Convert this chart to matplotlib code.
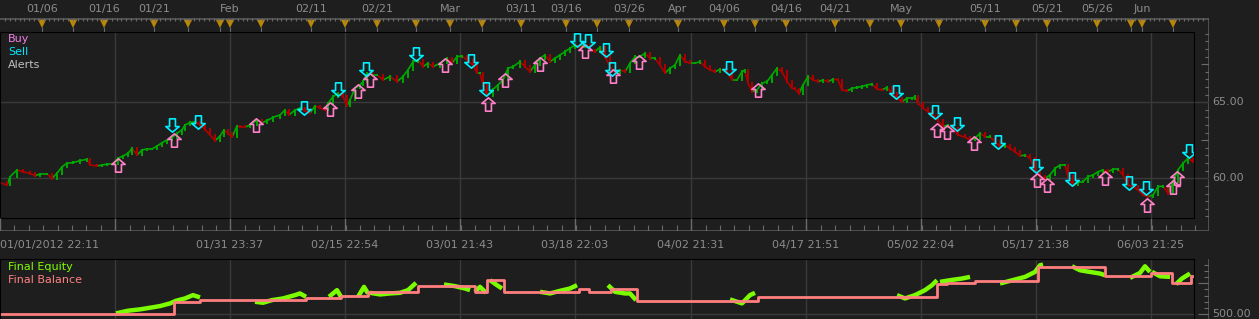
import numpy as np
import matplotlib.pyplot as plt
from matplotlib.collections import LineCollection
from matplotlib.path import Path

W, H = 1259, 319
BG = '#1e1e1e'
GRID = '#3a3a3a'
TXT = '#8c8c8c'
FRAME = '#5a5a5a'
TICK = '#6a6a6a'

# --- price bars (bar position, close) ---
price_x = [0, 7, 10, 17, 23, 30, 35, 40, 47, 52, 57, 62, 67, 73, 80, 87, 90, 97, 102, 107,
           113, 118, 123, 128, 132, 137, 142, 147, 152, 157, 162, 167, 172, 177, 182, 185, 190,
           195, 200, 205, 210, 215, 220, 224, 228, 232, 237,
           240, 245, 250, 257, 262, 267, 273, 280, 285, 289, 295, 300, 305, 310, 315, 320, 325,
           328, 333, 338, 343, 347, 350, 355, 360, 363, 367, 372, 377, 383, 390, 397, 403, 408,
           413, 418, 423, 428, 433, 440, 447, 452, 457, 462, 467, 473, 477,
           480, 483, 487, 493, 498, 503, 508, 513, 520, 525, 530, 535, 540, 545, 550, 555, 560,
           565, 570, 575, 580, 585, 590, 595, 600, 605, 610, 615, 620, 625, 630, 635, 640, 645,
           650, 655, 660, 665, 670, 675, 680, 685, 690, 695, 700, 705, 710, 715,
           720, 727, 732, 737, 742, 745, 748, 752, 757, 762, 767, 772, 777, 782, 787, 792, 795,
           799, 803, 808, 813, 818, 823, 828, 833, 838, 842, 847, 852, 857, 862, 867, 872, 877,
           882, 887, 892, 897, 902, 907, 912, 915, 918, 923, 928, 933, 938, 943, 948, 953, 958,
           965, 970, 975, 980, 985, 990, 995, 1000, 1005, 1010, 1015, 1020, 1025, 1030, 1035,
           1040, 1045, 1050, 1055, 1060, 1065, 1068, 1073, 1078, 1083, 1088, 1093, 1098, 1103,
           1108, 1113, 1118, 1123, 1128, 1133, 1138, 1143, 1148, 1153, 1158, 1163, 1168, 1173,
           1178, 1183, 1188, 1193]
price_close = [59.71, 59.56, 60.10, 60.55, 60.43, 60.33, 60.17, 60.28, 60.28, 60.00, 60.33, 60.76,
               60.99, 61.03, 61.16, 61.25, 60.87, 60.81, 60.87, 60.94, 60.94, 61.32, 61.47, 61.64,
               61.97, 61.53, 61.86, 61.93, 61.93, 62.12, 62.34, 62.52, 62.67, 62.96, 63.18, 63.51,
               63.66, 63.72, 63.51, 63.22, 62.85, 62.47, 62.78, 63.18, 62.96, 62.70, 63.44,
               63.40, 63.36, 63.51, 63.84, 63.66, 63.79, 64.01, 64.16, 64.49, 64.16, 64.49, 64.61,
               64.45, 64.28, 64.76, 64.61, 64.49, 64.93, 65.37, 65.59, 65.37, 64.76, 65.15, 65.92,
               66.14, 66.36, 66.91, 66.80, 66.80, 66.47, 66.69, 66.36, 66.69, 67.13, 67.67, 67.78,
               67.34, 67.57, 67.34, 67.57, 67.89, 67.57, 68.00, 68.05, 67.78, 67.45, 66.91,
               66.91, 66.10, 65.45, 65.85, 66.14, 66.47, 67.24, 67.34, 67.67, 67.34, 67.01, 67.45,
               67.89, 68.11, 67.67, 67.89, 68.11, 68.33, 68.55, 68.77, 68.66, 68.77, 68.44, 68.33,
               68.62, 68.00, 67.34, 66.95, 67.13, 67.01, 67.57, 68.00, 68.00, 68.22, 67.89, 67.89,
               67.45, 66.91, 67.24, 67.45, 68.11, 67.67, 67.57, 67.57, 67.67, 67.34, 67.13, 67.01,
               67.17, 67.01, 66.47, 66.47, 67.01, 67.13, 66.25, 65.70, 65.81, 66.25, 66.36, 66.80,
               67.24, 67.01, 66.36, 65.92, 65.86, 65.59, 66.14, 66.69, 66.47, 66.36, 66.47, 66.36,
               66.51, 66.47, 65.81, 65.74, 65.92, 65.98, 66.03, 66.14, 66.20, 65.86, 65.81, 65.98,
               65.59, 65.26, 65.04, 65.26, 65.26, 65.37, 64.93, 64.61, 64.38, 64.16, 63.79, 63.40,
               63.51, 63.29, 62.85,
               62.70, 62.52, 62.63, 62.96, 62.74, 62.74, 62.41, 62.08, 62.19, 61.97, 61.75, 61.47,
               61.53, 61.32, 60.55, 60.11, 60.00, 60.22, 60.66, 60.87, 60.87, 60.11, 59.56, 59.78,
               59.78, 60.11, 60.22, 60.43, 60.55, 60.43, 60.59, 60.59, 60.22, 59.56, 59.45, 59.23,
               58.90, 58.79, 58.90, 59.45, 59.49, 59.01, 59.78, 60.55, 60.99, 61.32, 61.09]

# --- trade signals ---
buy_x = [118, 174, 256, 330, 358, 370, 445, 488, 505, 540, 585, 613, 639, 758, 937, 947, 974,
         1037, 1047, 1105, 1147, 1173, 1177]
buy_price = [60.87, 62.52, 63.51, 64.56, 65.74, 66.47, 67.45, 64.89, 66.47, 67.52, 68.38, 66.73,
             67.65, 65.81, 63.18, 63.05, 62.32, 59.89, 59.56, 60.02, 58.24, 59.43, 60.02]
sell_x = [172, 198, 304, 338, 366, 416, 471, 486, 577, 588, 606, 612, 729, 896, 935, 957, 998,
          1036, 1072, 1129, 1146, 1189]
sell_price = [63.51, 63.70, 64.64, 65.88, 67.19, 68.18, 67.72, 65.88, 69.10, 69.03, 68.44, 67.19,
              67.26, 65.68, 64.36, 63.57, 62.39, 60.81, 59.95, 59.69, 59.36, 61.80]

# --- equity (only while a position is open) and balance ---
nan = np.nan
equity_x = [116, 128, 140, 150, 160, 170, 176, 185, 193, 200, nan,
            255, 263, 272, 283, 295, 300, 306, nan,
            329, 337, 341, nan, 358, 364, 368, nan,
            370, 380, 390, 400, 408, 416, nan,
            444, 455, 465, 470, nan, 475, 480, 486, nan, 490, 497, 502, nan,
            540, 550, 560, 570, 577, nan,
            608, 615, 625, 630, 636, nan,
            730, 742, 750, 755, nan,
            897, 905, 915, 925, 932, 937, nan, 940, 950, 962, 970, nan,
            1000, 1015, 1025, 1035, 1040, 1043, nan,
            1072, 1080, 1090, 1100, 1105, nan,
            1130, 1140, 1145, 1150, nan, 1152, 1160, 1170, nan, 1176, 1182, 1190]
equity_val = [516, 558, 580, 606, 633, 676, 718, 756, 809, 772, nan,
              702, 686, 729, 756, 809, 836, 782, nan,
              782, 889, 782, nan, 782, 942, 836, nan,
              846, 820, 836, 846, 889, 1006, nan,
              980, 953, 916, 889, nan, 862, 942, 846, nan, 1049, 969, 916, nan,
              862, 836, 878, 916, 969, nan,
              969, 862, 836, 836, 729, nan,
              740, 676, 809, 846, nan,
              809, 756, 809, 889, 969, 1049, nan, 1022, 1049, 1076, 1102, nan,
              996, 1060, 1102, 1182, 1289, 1300, nan,
              1273, 1209, 1182, 1156, 1129, nan,
              1086, 1166, 1273, 1182, nan, 1182, 1113, 1102, nan, 985, 1076, 1156]
balance_x = [0, 174, 200, 306, 341, 368, 418, 475, 487, 504, 579, 589, 611, 637, 758, 937, 947,
             975, 1038, 1105, 1151, 1172, 1191, 1194]
balance_val = [510, 697, 734, 766, 793, 857, 958, 852, 1049, 852, 905, 852, 905, 718, 782, 990,
               1012, 1038, 1262, 1118, 1166, 1012, 1124, 1124]

# --- time axes ---
top_marks = [42, 73, 104, 154, 188, 220, 230, 261, 311, 345, 377, 416, 450, 482, 521, 566, 597,
             629, 678, 724, 755, 786, 835, 870, 901, 939, 985, 1016, 1047, 1097, 1131, 1142, 1173]
top_label_x = [42, 104, 154, 230, 311, 377, 450, 521, 566, 629, 678, 724, 786, 835, 901, 985,
               1047, 1097, 1142]
top_labels = ['01/06', '01/16', '01/21', 'Feb', '02/11', '02/21', 'Mar', '03/11', '03/16',
              '03/26', 'Apr', '04/06', '04/16', '04/21', 'May', '05/11', '05/21', '05/26', 'Jun']
bottom_label_x = [0, 115, 230, 345, 460, 575, 691, 806, 921, 1036, 1151]
bottom_labels = ['01/01/2012 22:11', '', '01/31 23:37', '02/15 22:54', '03/01 21:43',
                 '03/18 22:03', '04/02 21:31', '04/17 21:51', '05/02 22:04', '05/17 21:38',
                 '06/03 21:25']
price_ticks = [60, 65]
price_labels = ['60.00', '65.00']


def px_axes(fig, x0, y0, x1, y1):
    ax = fig.add_axes([x0 / W, 1 - y1 / H, (x1 - x0) / W, (y1 - y0) / H])
    ax.set_facecolor(BG)
    return ax


def arrow_path(up=True):
    # hollow block arrow: narrow shaft, wide head
    s = 1 if up else -1
    verts = [(-0.5, 0.08 * s), (0, 0.5 * s), (0.5, 0.08 * s), (0.22, 0.08 * s),
             (0.22, -0.5 * s), (-0.22, -0.5 * s), (-0.22, 0.08 * s), (-0.5, 0.08 * s)]
    return Path(verts, closed=True)


fig = plt.figure(figsize=(W / 100, H / 100), dpi=100, facecolor=BG)
font = dict(fontsize=8, family='DejaVu Sans')

# =========================================================
# top date strip
# =========================================================
ax_t = px_axes(fig, 0, 18, 1209, 32)
ax_t.set_xlim(0, 1209)
ax_t.set_ylim(14, 0)
ax_t.axis('off')
ax_t.plot([0, 1209], [0.5, 0.5], color=FRAME, lw=1.2)
ax_t.plot([1208.5, 1208.5], [0, 14], color=FRAME, lw=1.2)
ax_t.vlines(np.arange(5, 1205, 4.85), 0, 3, color=TICK, lw=0.8)
for tx in top_marks:
    ax_t.vlines(tx, 9, 14, color=TICK, lw=0.8)
    ax_t.fill([tx - 4.5, tx + 4.5, tx], [1, 1, 10], color='#b8860b', lw=0)
for tx, lab in zip(top_label_x, top_labels):
    fig.text(tx / W, 1 - 9 / H, lab, color=TXT, ha='center', va='center', **font)

# =========================================================
# main price panel
# =========================================================
ax = px_axes(fig, 0, 32, 1194, 218)
ax.set_xlim(0, 1194)
ax.set_ylim(57.39, 69.62)
ax.set_xticks([])
ax.set_yticks([])
for sp in ax.spines.values():
    sp.set_color('black')
for gx in bottom_label_x[1:]:
    ax.axvline(gx, color=GRID, lw=1)
for gy in price_ticks:
    ax.axhline(gy, color=GRID, lw=1)

# colour each bar green (up) or red (down): thin link plus a short vertical bar
segs, bars, cols = [], [], []
for i in range(1, len(price_x)):
    p0, p1 = price_close[i - 1], price_close[i]
    segs.append([(price_x[i - 1], p0), (price_x[i], p1)])
    bars.append([(price_x[i], min(p0, p1) - 0.08), (price_x[i], max(p0, p1) + 0.08)])
    cols.append('#00a800' if p1 >= p0 else '#b00000')
ax.add_collection(LineCollection(segs, colors=cols, linewidths=1.2))
ax.add_collection(LineCollection(bars, colors=cols, linewidths=1.4))

ax.plot(buy_x, buy_price, ls='none', marker=arrow_path(True), ms=9.6, mfc='none',
        mec='#ff80c8', mew=1.2)
ax.plot(sell_x, sell_price, ls='none', marker=arrow_path(False), ms=9.6, mfc='none',
        mec='#00f0ff', mew=1.2)

fig.text(8 / W, 1 - 39 / H, 'Buy', color='#f080e8', va='center', **font)
fig.text(8 / W, 1 - 52 / H, 'Sell', color='#00e8ff', va='center', **font)
fig.text(8 / W, 1 - 65 / H, 'Alerts', color='#c0c0c0', va='center', **font)

# right price scale
ax_r = px_axes(fig, 1194, 32, 1209, 218)
ax_r.set_xlim(0, 15)
ax_r.set_ylim(ax.get_ylim())
ax_r.axis('off')
ax_r.plot([14.5, 14.5], [57.39, 69.62], color=FRAME, lw=1.2)
ax_r.hlines(np.arange(57.5, 69.6, 0.5), 11, 15, color=TICK, lw=0.8)
ax_r.hlines([62.5, 67.5], 7, 15, color=TICK, lw=0.8)
ax_r.hlines(price_ticks, 0, 15, color=GRID, lw=1)
for gy, lab in zip(price_ticks, price_labels):
    ax_r.text(18, gy, lab, color=TXT, va='center', ha='left', clip_on=False, **font)

# bottom time strip
ax_b = px_axes(fig, 0, 218, 1209, 231)
ax_b.set_xlim(0, 1209)
ax_b.set_ylim(13, 0)
ax_b.axis('off')
ax_b.plot([0, 1209], [12.5, 12.5], color=FRAME, lw=1.2)
ax_b.plot([1208.5, 1208.5], [0, 13], color=FRAME, lw=1.2)
ax_b.vlines(np.arange(0, 1200, 14.4), 7, 13, color=TICK, lw=0.8)
ax_b.vlines(bottom_label_x, 0, 13, color=TICK, lw=1)
for bx, lab in zip(bottom_label_x, bottom_labels):
    fig.text(bx / W, 1 - 245 / H, lab, color=TXT, va='center',
             ha='left' if bx == 0 else 'center', **font)

# =========================================================
# equity / balance panel
# =========================================================
ax2 = px_axes(fig, 0, 259, 1194, 319)
ax2.set_xlim(0, 1194)
ax2.set_ylim(425, 1390)
ax2.set_xticks([])
ax2.set_yticks([])
for sp in ax2.spines.values():
    sp.set_color('black')
for gx in bottom_label_x[1:]:
    ax2.axvline(gx, color=GRID, lw=1)
ax2.axhline(500, color=GRID, lw=1)
ax2.plot(equity_x, equity_val, color='#7cfc00', lw=3.2, solid_capstyle='butt')
ax2.step(balance_x, balance_val, where='post', color='#ff7f7f', lw=2)

fig.text(8 / W, 1 - 267 / H, 'Final Equity', color='#80ff00', va='center', **font)
fig.text(8 / W, 1 - 280 / H, 'Final Balance', color='#ff8080', va='center', **font)

ax2r = px_axes(fig, 1194, 259, 1209, 319)
ax2r.set_xlim(0, 15)
ax2r.set_ylim(ax2.get_ylim())
ax2r.axis('off')
ax2r.plot([14.5, 14.5], [425, 1390], color=FRAME, lw=1.2)
ax2r.hlines(np.arange(500, 1390, 100), 10, 15, color=TICK, lw=0.8)
ax2r.hlines([500, 1000], 4, 15, color=TICK, lw=0.8)
ax2r.text(18, 500, '500.00', color=TXT, va='center', ha='left', clip_on=False, **font)

fig.savefig('out.png', dpi=100, facecolor=BG)
